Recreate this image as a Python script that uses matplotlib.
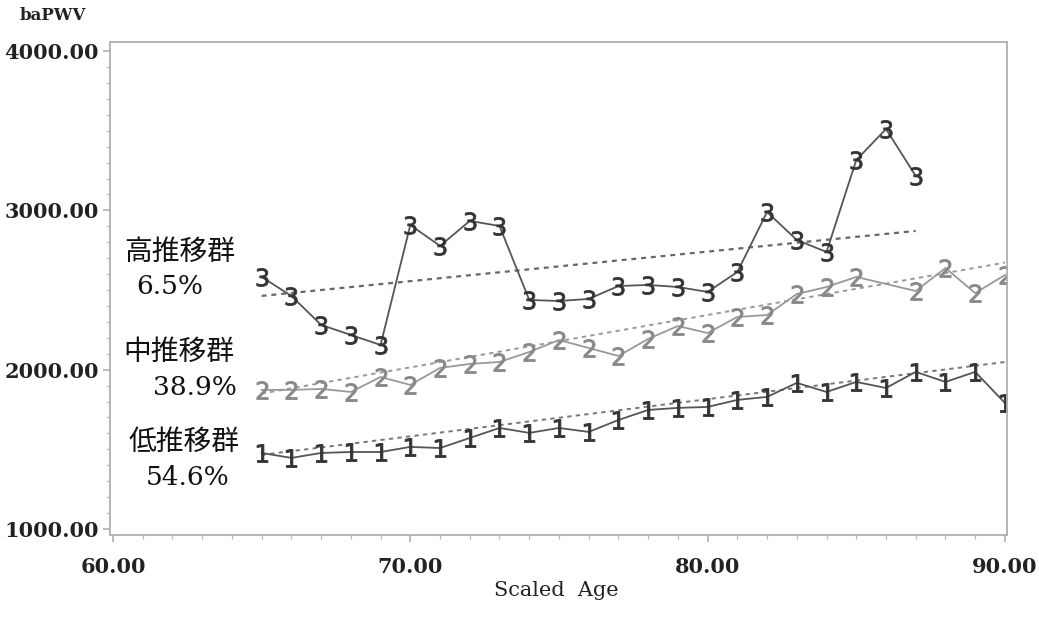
import numpy as np
import matplotlib
matplotlib.use("Agg")
import matplotlib.pyplot as plt

# ages (scaled) and mean baPWV per trajectory group
age_low = [65, 66, 67, 68, 69, 70, 71, 72, 73, 74, 75, 76, 77, 78, 79, 80, 81, 82, 83, 84, 85, 86, 87, 88, 89, 90]
pwv_low = [1477, 1446, 1477, 1483, 1483, 1515, 1508, 1571, 1634, 1603, 1634, 1609, 1684, 1747, 1760, 1766,
           1810, 1829, 1917, 1860, 1923, 1885, 1986, 1923, 1986, 1791]

age_mid = [65, 66, 67, 68, 69, 70, 71, 72, 73, 74, 75, 76, 77, 78, 79, 80, 81, 82, 83, 84, 85, 87, 88, 89, 90]
pwv_mid = [1873, 1873, 1879, 1860, 1954, 1904, 2011, 2036, 2048, 2111, 2186, 2136, 2086, 2193, 2274, 2230,
           2331, 2343, 2475, 2519, 2582, 2494, 2638, 2481, 2594]

age_high = [65, 66, 67, 68, 69, 70, 71, 72, 73, 74, 75, 76, 77, 78, 79, 80, 81, 82, 83, 84, 85, 86, 87]
pwv_high = [2582, 2463, 2281, 2218, 2155, 2908, 2777, 2934, 2902, 2438, 2431, 2444, 2525, 2532, 2519, 2488,
            2613, 2990, 2814, 2739, 3316, 3511, 3216]

# fitted trend lines (end points)
trend_low_x, trend_low_y = [65, 90], [1465, 2048]
trend_mid_x, trend_mid_y = [65, 90], [1850, 2672]
trend_high_x, trend_high_y = [65, 87], [2463, 2871]

group_names = ["低推移群", "中推移群", "高推移群"]
group_pcts = ["54.6%", "38.9%", "6.5%"]

serif = ["DejaVu Serif", "Noto Sans CJK JP"]

fig = plt.figure(figsize=(10.39, 6.32), dpi=100)
ax = fig.add_axes([0.1059, 0.1535, 0.8633, 0.78])

dash = (0, (2.2, 2.2))
ax.plot(trend_high_x, trend_high_y, color="#666666", lw=1.6, linestyle=dash)
ax.plot(trend_mid_x, trend_mid_y, color="#999999", lw=1.4, linestyle=dash)
ax.plot(trend_low_x, trend_low_y, color="#777777", lw=1.4, linestyle=dash)

ax.plot(age_high, pwv_high, color="#555555", lw=1.3, marker="$3$", ms=13,
        mfc="#333333", mec="#333333", mew=0.6)
ax.plot(age_mid, pwv_mid, color="#999999", lw=1.3, marker="$2$", ms=13,
        mfc="#888888", mec="#888888", mew=0.6)
ax.plot(age_low, pwv_low, color="#555555", lw=1.3, marker="$1$", ms=13,
        mfc="#333333", mec="#333333", mew=0.6)

ax.set_xlim(59.9, 90.07)
ax.set_ylim(962, 4057)
ax.set_xticks([60, 70, 80, 90])
ax.set_xticks(np.arange(60, 91, 1), minor=True)
ax.set_yticks([1000, 2000, 3000, 4000])
ax.set_yticks(np.arange(1000, 4001, 100), minor=True)
ax.set_xticklabels([f"{v:.2f}" for v in [60, 70, 80, 90]])
ax.set_yticklabels([f"{v:.2f}" for v in [1000, 2000, 3000, 4000]])

for lab in ax.get_xticklabels() + ax.get_yticklabels():
    lab.set_family("DejaVu Serif")
    lab.set_fontsize(15)
    lab.set_fontweight("bold")
    lab.set_color("#222222")

for s in ax.spines.values():
    s.set_color("#b0b0b0")
    s.set_linewidth(1.3)
ax.tick_params(which="major", length=5, width=1.1, color="#aaaaaa", pad=11)
ax.tick_params(which="minor", length=3, width=0.9, color="#bbbbbb")
ax.tick_params(axis="y", pad=3)

# group labels
label_pos = [(62.4, 1540, 62.5, 1320), (62.2, 2105, 62.76, 1891), (62.25, 2739, 61.9, 2519)]
for name, pct, (nx, ny, px, py) in zip(group_names, group_pcts, label_pos):
    ax.text(nx, ny, name, ha="center", va="center", fontsize=20, family=serif, color="#111111")
    ax.text(px, py, pct, ha="center", va="center", fontsize=19, family=serif, color="#111111")

fig.text(0.019, 0.975, "baPWV", ha="left", va="center", fontsize=12, fontweight="bold",
         family="DejaVu Serif", color="#222222")
fig.text(0.535, 0.065, "Scaled  Age", ha="center", va="center", fontsize=15,
         family="DejaVu Serif", color="#222222")

fig.savefig("out.png", dpi=100, facecolor="white")
